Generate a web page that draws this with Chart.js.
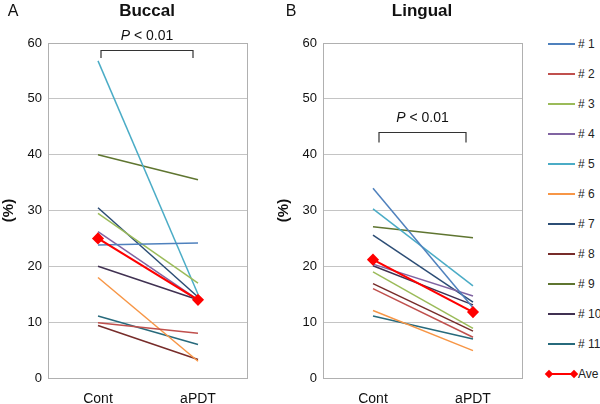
<!DOCTYPE html>
<html lang="en">
<head>
    <meta charset="UTF-8">
    <title>Buccal / Lingual</title>
    <script src="https://cdn.jsdelivr.net/npm/chart.js"></script>
    <style>
        body {
            margin: 0;
            background: #fff;
            font-family: "Liberation Sans", Arial, sans-serif;
        }
        #wrap {
            position: relative;
            width: 600px;
            height: 404px;
            overflow: hidden;
        }
        canvas {
            position: absolute;
            top: 0;
        }
        #chartA { left: 0; }
        #chartB { left: 275px; }
        #legend {
            position: absolute;
            left: 548px;
            top: 0;
        }
        .item {
            position: absolute;
            left: 0;
            height: 14px;
            width: 60px;
            font-size: 12px;
            color: #222;
        }
        .item .line {
            position: absolute;
            left: 0;
            top: 6px;
            width: 27px;
            height: 2px;
        }
        .item .txt {
            position: absolute;
            left: 30px;
            top: 0;
            line-height: 14px;
            white-space: nowrap;
        }
        .item .dia {
            position: absolute;
            top: 4px;
            width: 6px;
            height: 6px;
            background: #ff0000;
            transform: rotate(45deg);
        }
    </style>
</head>
<body>
<div id="wrap">
    <canvas id="chartA" width="260" height="404"></canvas>
    <canvas id="chartB" width="260" height="404"></canvas>
    <div id="legend"></div>
</div>
<script>
    const categories = ['Cont', 'aPDT'];
    const seriesNames = ['# 1', '# 2', '# 3', '# 4', '# 5', '# 6', '# 7', '# 8', '# 9', '# 10', '# 11'];
    const seriesColors = ['#4F81BD', '#C0504D', '#9BBB59', '#8064A2', '#4BACC6', '#F79646',
                          '#2C4D75', '#772C2A', '#5F7530', '#403152', '#276A7C'];

    // Buccal (panel A)
    const buccalCont = [23.8, 9.9, 29.5, 26.2, 56.8, 18.0, 30.5, 9.4, 40.0, 20.0, 11.1];
    const buccalAPDT = [24.2, 8.0, 17.0, 14.0, 15.0, 3.0, 14.5, 3.3, 35.5, 14.0, 6.0];
    const buccalAve = [25.0, 14.0];

    // Lingual (panel B)
    const lingualCont = [34.0, 16.0, 19.0, 20.4, 30.3, 12.1, 25.6, 16.9, 27.1, 20.1, 11.1];
    const lingualAPDT = [12.6, 7.3, 8.9, 14.7, 16.5, 4.9, 13.6, 8.4, 25.1, 13.1, 7.0];
    const lingualAve = [21.2, 11.8];

    const yMin = 0, yMax = 60, yStep = 10;
    const fontFamily = '"Liberation Sans", Arial, sans-serif';

    // frame round the plot area
    const framePlugin = {
        id: 'frame',
        beforeDatasetsDraw(chart) {
            const a = chart.chartArea;
            const ctx = chart.ctx;
            ctx.save();
            ctx.strokeStyle = '#B0B0B0';
            ctx.lineWidth = 1;
            ctx.strokeRect(a.left + 0.5, a.top + 0.5, a.right - a.left - 1, a.bottom - a.top);
            ctx.restore();
        }
    };

    // panel letter, title and the P-value bracket
    function makeDecor(letter, letterX, title, br) {
        return {
            id: 'decor',
            afterDraw(chart) {
                const ctx = chart.ctx;
                const a = chart.chartArea;
                const x = chart.scales.x, y = chart.scales.y;
                ctx.save();
                ctx.fillStyle = '#111';
                ctx.textBaseline = 'alphabetic';
                ctx.textAlign = 'center';
                ctx.font = '16px ' + fontFamily;
                ctx.fillText(letter, letterX, 16);
                ctx.font = 'bold 17px ' + fontFamily;
                ctx.fillText(title, (a.left + a.right) / 2 - 1, 16);

                // bracket
                const x0 = x.getPixelForValue(0) + br.dl;
                const x1 = x.getPixelForValue(1) + br.dr;
                const yt = Math.round(y.getPixelForValue(br.top)) + 0.5;
                const yb = y.getPixelForValue(br.leg);
                ctx.strokeStyle = '#333';
                ctx.lineWidth = 1.2;
                ctx.beginPath();
                ctx.moveTo(x0, yb);
                ctx.lineTo(x0, yt);
                ctx.lineTo(x1, yt);
                ctx.lineTo(x1, yb);
                ctx.stroke();

                // "P < 0.01"
                ctx.font = 'italic 14px ' + fontFamily;
                const wP = ctx.measureText('P').width;
                ctx.font = '14px ' + fontFamily;
                const rest = ' < 0.01';
                const wR = ctx.measureText(rest).width;
                const cx = (x0 + x1) / 2;
                const sx = cx - (wP + wR) / 2;
                const ty = yt - 11;
                ctx.textAlign = 'left';
                ctx.font = 'italic 14px ' + fontFamily;
                ctx.fillText('P', sx, ty);
                ctx.font = '14px ' + fontFamily;
                ctx.fillText(rest, sx + wP, ty);
                ctx.restore();
            }
        };
    }

    function makeChart(id, cont, apdt, ave, decor) {
        const datasets = seriesNames.map((name, i) => ({
            label: name,
            data: [cont[i], apdt[i]],
            borderColor: seriesColors[i],
            backgroundColor: seriesColors[i],
            borderWidth: 1.5,
            pointRadius: 0,
            tension: 0,
            order: i
        }));
        datasets.push({
            label: 'Ave',
            data: ave,
            borderColor: '#FF0000',
            backgroundColor: '#FF0000',
            borderWidth: 2.2,
            pointStyle: 'rectRot',
            pointRadius: 4.5,
            pointBackgroundColor: '#FF0000',
            pointBorderColor: '#FF0000',
            tension: 0,
            order: -1
        });

        return new Chart(document.getElementById(id).getContext('2d'), {
            type: 'line',
            data: { labels: categories, datasets: datasets },
            options: {
                responsive: false,
                animation: false,
                layout: { padding: { top: 43, right: 12, left: 0, bottom: 0 } },
                plugins: {
                    legend: { display: false },
                    tooltip: { enabled: false }
                },
                scales: {
                    x: {
                        offset: true,
                        grid: { display: false, drawTicks: false },
                        border: { display: false },
                        ticks: {
                            color: '#111',
                            padding: 13,
                            font: { family: fontFamily, size: 14 }
                        },
                        afterFit: s => { s.height = 26; }
                    },
                    y: {
                        min: yMin,
                        max: yMax,
                        grid: { color: '#C4C4C4', drawTicks: false },
                        border: { display: false },
                        ticks: {
                            stepSize: yStep,
                            color: '#111',
                            padding: 6,
                            font: { family: fontFamily, size: 13 }
                        },
                        title: {
                            display: true,
                            text: '(%)',
                            color: '#111',
                            padding: { top: 0, bottom: 0 },
                            font: { family: fontFamily, size: 15, weight: 'bold' }
                        },
                        afterFit: s => { s.width = 48; }
                    }
                }
            },
            plugins: [framePlugin, decor]
        });
    }

    makeChart('chartA', buccalCont, buccalAPDT, buccalAve,
        makeDecor('A', 13, 'Buccal', { top: 58.8, leg: 57.3, dl: 3, dr: -5 }));
    makeChart('chartB', lingualCont, lingualAPDT, lingualAve,
        makeDecor('B', 16, 'Lingual', { top: 44.0, leg: 42.2, dl: 6, dr: -7 }));

    // legend
    const legend = document.getElementById('legend');
    const names = seriesNames.concat(['Ave']);
    const colors = seriesColors.concat(['#FF0000']);
    names.forEach((name, i) => {
        const item = document.createElement('div');
        item.className = 'item';
        item.style.top = (44 + 30 * i - 7) + 'px';
        let html = '<span class="line" style="background:' + colors[i] + '"></span>';
        if (name === 'Ave') {
            html += '<span class="dia" style="left:-2px"></span><span class="dia" style="left:23px"></span>';
        }
        html += '<span class="txt">' + name + '</span>';
        item.innerHTML = html;
        legend.appendChild(item);
    });
</script>
</body>
</html>
